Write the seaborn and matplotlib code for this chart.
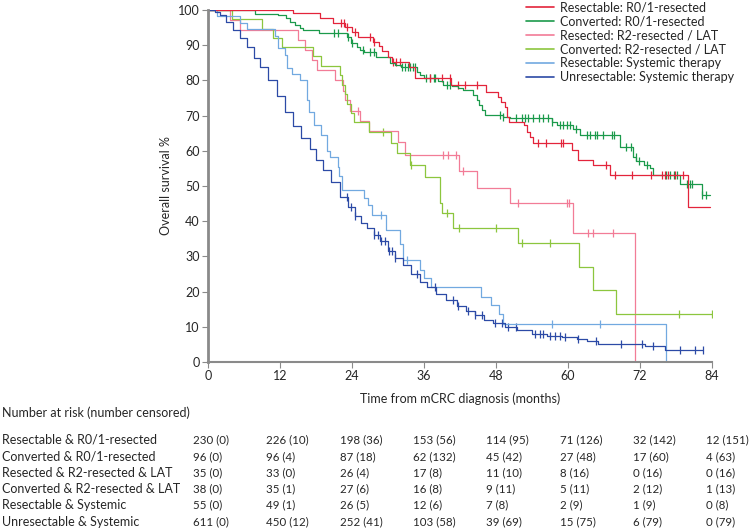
import numpy as np
import pandas as pd
import matplotlib
matplotlib.use("Agg")
import matplotlib.pyplot as plt
from matplotlib.lines import Line2D
import seaborn as sns

# Kaplan-Meier step points (months, survival %)
groups = [
    "Resectable: R0/1-resected",
    "Converted: R0/1-resected",
    "Resected: R2-resected / LAT",
    "Converted: R2-resected / LAT",
    "Resectable: Systemic therapy",
    "Unresectable: Systemic therapy",
]
colors = ["#e3243b", "#1b9a4b", "#f27c97", "#8cc63e", "#72a9e0", "#2c4aa6"]

red_t = [0, 14.2, 18.6, 20.9, 22.8, 24.0, 25.0, 27.5, 28.5, 29.0, 30.0, 30.6, 33.5, 34.5,
         40.5, 46.4, 48.4, 48.9, 49.5, 49.8, 50.1, 52.6, 53.1, 53.7, 54.2, 60.6, 61.7, 64.2,
         67.0, 80.0, 83.7]
red_s = [100, 99.1, 97.7, 96.3, 95.2, 93.8, 92.3, 90.9, 89.8, 88.3, 86.6, 85.2, 83.8, 80.7,
         78.7, 76.7, 75.3, 73.9, 72.4, 69.6, 68.2, 67.3, 65.3, 64.0, 62.3, 60.2, 57.4, 56.0,
         53.1, 44.0, 44.0]
red_cens = [22.1, 22.6, 23.1, 24.5, 27.0, 27.6, 30.9, 31.4, 32.0, 37.0, 39.0, 40.3, 41.7, 42.8,
            44.8, 55.0, 56.4, 58.9, 59.1, 66.4, 67.8, 70.6, 73.9, 75.6, 76.2, 76.7, 77.8, 79.2]

green_t = [0, 7.8, 11.6, 13.0, 13.7, 14.5, 15.3, 15.9, 18.5, 23.2, 23.8, 24.8, 25.3, 26.0,
           28.0, 30.3, 31.2, 32.2, 34.8, 35.3, 36.0, 38.4, 39.2, 40.6, 41.7, 42.5, 44.2, 44.8,
           45.1, 45.6, 46.2, 49.2, 50.3, 57.3, 58.2, 60.9, 62.0, 68.7, 70.9, 71.4, 72.6, 73.7,
           74.2, 78.7, 82.3, 83.7]
green_s = [100, 99.0, 98.6, 97.7, 96.5, 95.7, 94.9, 94.3, 93.5, 92.3, 90.6, 89.5, 88.6, 88.0,
           86.6, 84.9, 84.4, 83.8, 82.4, 81.5, 80.7, 79.8, 78.7, 78.3, 77.8, 77.2, 75.9, 74.4,
           73.0, 71.6, 70.2, 69.6, 69.2, 68.3, 67.3, 66.3, 64.5, 61.0, 58.2, 57.0, 56.0, 55.0,
           53.1, 50.6, 47.4, 47.4]
green_cens = [21.0, 21.7, 23.4, 24.0, 25.9, 27.0, 27.6, 32.3, 32.8, 33.4, 33.7, 34.2, 34.5,
              36.4, 37.0, 37.6, 37.8, 39.8, 40.3, 48.7, 49.2, 51.4, 52.3, 52.8, 53.4, 54.2,
              55.1, 55.9, 56.7, 57.3, 58.7, 59.2, 59.8, 60.3, 61.4, 63.1, 63.7, 64.5, 64.8,
              65.9, 67.3, 67.6, 69.7, 70.5, 71.3, 71.9, 73.1, 76.3, 77.0, 77.6, 78.2, 79.8,
              80.4, 80.7, 82.4, 83.0]

pink_t = [0, 3.7, 5.3, 15.0, 16.2, 17.4, 18.2, 21.1, 22.5, 22.8, 23.6, 25.3, 26.8, 31.7,
          32.8, 41.8, 44.8, 50.4, 60.8, 71.2, 71.2]
pink_s = [100, 97.1, 94.3, 91.4, 88.6, 85.7, 82.9, 80.0, 77.1, 74.3, 71.4, 68.6, 65.7, 62.6,
          58.7, 54.3, 49.4, 45.2, 36.6, 0, 0]
pink_cens = [25.0, 39.2, 40.0, 41.4, 42.5, 51.6, 59.8, 60.2, 63.4, 64.2, 67.5]

lgreen_t = [0, 4.0, 9.0, 10.8, 12.3, 17.5, 18.9, 22.0, 22.3, 22.8, 23.2, 23.8, 24.3, 26.8,
            30.5, 31.5, 33.7, 36.2, 38.7, 39.0, 40.8, 51.7, 61.8, 64.2, 68.0, 84.2]
lgreen_s = [100, 97.4, 94.7, 92.1, 89.5, 86.8, 84.2, 81.4, 78.6, 76.0, 73.3, 70.7, 68.1, 65.3,
            62.3, 59.4, 56.0, 52.6, 45.2, 42.3, 38.0, 33.8, 27.0, 20.4, 13.6, 13.6]
lgreen_cens = [29.2, 33.9, 39.9, 41.9, 48.0, 52.3, 57.0, 78.5, 84.0]

lblue_t = [0, 1.5, 5.3, 6.5, 11.2, 11.7, 12.8, 13.2, 14.0, 15.3, 16.5, 16.8, 17.7, 18.8, 19.9,
           20.4, 21.6, 21.8, 22.3, 26.0, 26.6, 27.4, 29.7, 32.0, 32.5, 35.4, 36.0, 37.2, 45.5,
           47.2, 48.5, 49.2, 76.3, 76.3]
lblue_s = [100, 98.2, 96.4, 94.6, 92.7, 89.1, 87.3, 83.6, 81.8, 80.0, 74.5, 70.9, 67.3, 64.5,
           60.0, 58.2, 55.4, 52.7, 49.0, 46.5, 44.6, 41.8, 37.5, 33.5, 29.0, 26.0, 23.8, 21.3,
           18.5, 16.2, 13.5, 10.8, 0, 0]
lblue_cens = [28.9, 33.2, 57.4, 65.3]

dblue_t = [0, 1.2, 2.0, 3.0, 4.2, 5.3, 6.5, 7.6, 8.7, 10.0, 11.5, 12.8, 14.2, 15.5, 17.0,
           18.0, 19.2, 20.5, 22.0, 23.3, 24.5, 25.5, 26.5, 27.6, 28.7, 30.0, 31.2, 32.5, 33.8,
           35.3, 36.5, 38.0, 39.7, 41.5, 43.0, 44.5, 46.0, 47.5, 49.5, 51.5, 54.0, 56.5, 59.0,
           61.5, 63.2, 65.0, 72.8, 76.2, 82.5]
dblue_s = [100, 99.5, 98.5, 96.5, 94.3, 92.0, 89.5, 86.5, 83.8, 80.0, 75.5, 71.0, 67.0, 63.5,
           60.5, 57.5, 54.5, 51.0, 47.0, 44.0, 41.5, 39.5, 38.0, 36.0, 34.3, 31.5, 29.5, 27.5,
           25.0, 22.8, 21.3, 19.3, 17.5, 15.8, 14.5, 13.3, 12.0, 11.0, 10.0, 9.0, 8.0, 7.5, 7.1,
           6.5, 6.0, 5.1, 4.5, 3.4, 3.4]
dblue_cens = [23.1, 23.9, 24.5, 27.6, 28.4, 28.9, 29.5, 30.1, 30.6, 31.2, 34.9, 37.8, 40.9,
              41.7, 43.4, 44.5, 45.6, 47.8, 49.0, 50.0, 51.4, 54.5, 55.3, 55.9, 57.0, 57.8,
              58.7, 59.5, 61.7, 64.7, 68.9, 72.4, 74.2, 78.7, 81.2, 82.5]

curve_t = [red_t, green_t, pink_t, lgreen_t, lblue_t, dblue_t]
curve_s = [red_s, green_s, pink_s, lgreen_s, lblue_s, dblue_s]
curve_cens = [red_cens, green_cens, pink_cens, lgreen_cens, lblue_cens, dblue_cens]

# Number at risk table
risk_times = [0, 12, 24, 36, 48, 60, 72, 84]
risk_labels = [
    "Resectable & R0/1-resected",
    "Converted & R0/1-resected",
    "Resected & R2-resected & LAT",
    "Converted & R2-resected & LAT",
    "Resectable & Systemic",
    "Unresectable & Systemic",
]
risk_rows = [
    ["230 (0)", "226 (10)", "198 (36)", "153 (56)", "114 (95)", "71 (126)", "32 (142)", "12 (151)"],
    ["96 (0)", "96 (4)", "87 (18)", "62 (132)", "45 (42)", "27 (48)", "17 (60)", "4 (63)"],
    ["35 (0)", "33 (0)", "26 (4)", "17 (8)", "11 (10)", "8 (16)", "0 (16)", "0 (16)"],
    ["38 (0)", "35 (1)", "27 (6)", "16 (8)", "9 (11)", "5 (11)", "2 (12)", "1 (13)"],
    ["55 (0)", "49 (1)", "26 (5)", "12 (6)", "7 (8)", "2 (9)", "1 (9)", "0 (8)"],
    ["611 (0)", "450 (12)", "252 (41)", "103 (58)", "39 (69)", "15 (75)", "6 (79)", "0 (79)"],
]

# build tables
lines = []
cens = []
for g, t, s, c in zip(groups, curve_t, curve_s, curve_cens):
    lines.append(pd.DataFrame({"time": t, "surv": s, "group": g}))
    idx = np.searchsorted(t, c, side="right") - 1
    cens.append(pd.DataFrame({"time": c, "surv": np.array(s)[idx], "group": g}))
df = pd.concat(lines, ignore_index=True)
dfc = pd.concat(cens, ignore_index=True)

sns.set_style("white")
plt.rcParams["font.family"] = ["Lato", "DejaVu Sans"]
fs = 9

W, H = 750, 528
fig = plt.figure(figsize=(W / 100, H / 100), dpi=100)
ax = fig.add_axes([208 / W, 1 - 362 / H, (712 - 208) / W, (362 - 10) / H])

# draw the light ones first so dark curves sit on top
order = [2, 3, 4, 1, 0, 5]
for i in order:
    g = groups[i]
    sns.lineplot(data=df[df.group == g], x="time", y="surv", color=colors[i],
                 drawstyle="steps-post", estimator=None, sort=False, lw=0.9, ax=ax)
    sns.scatterplot(data=dfc[dfc.group == g], x="time", y="surv", color=colors[i],
                    marker="|", s=30, linewidth=0.9, ax=ax)

ax.set_xlim(0, 84)
ax.set_ylim(0, 100)
ax.set_xticks(risk_times)
ax.set_yticks(range(0, 101, 10))
ax.tick_params(axis="both", direction="out", length=4, width=0.8, color="#8a8a8a",
               labelsize=fs, pad=2, left=True, bottom=True)
for side in ["top", "right"]:
    ax.spines[side].set_visible(False)
ax.spines["left"].set_color("#8a8a8a")
ax.spines["left"].set_linewidth(2.0)
ax.spines["bottom"].set_color("#8a8a8a")
ax.spines["bottom"].set_linewidth(1.5)
ax.set_xlabel("Time from mCRC diagnosis (months)", fontsize=fs, labelpad=7)
ax.set_ylabel("Overall survival %", fontsize=fs, labelpad=4)

handles = [Line2D([0], [0], color=c, lw=1.2) for c in colors]
fig.legend(handles, groups, loc="upper left", bbox_to_anchor=(526 / W, 1 - 1 / H),
           frameon=False, fontsize=fs, handlelength=2.2, handletextpad=0.5,
           labelspacing=0.16, borderpad=0, borderaxespad=0)

# number at risk table
fig.text(2 / W, 1 - 413 / H, "Number at risk (number censored)", fontsize=fs, va="center")
col_x = [193 + 73.3 * i for i in range(len(risk_times))]
for r, (lab, row) in enumerate(zip(risk_labels, risk_rows)):
    y = 1 - (440 + 16.3 * r) / H
    fig.text(2 / W, y, lab, fontsize=fs, va="center")
    for x, v in zip(col_x, row):
        fig.text(x / W, y, v, fontsize=8.3, va="center")

fig.savefig("out.png", dpi=100)
